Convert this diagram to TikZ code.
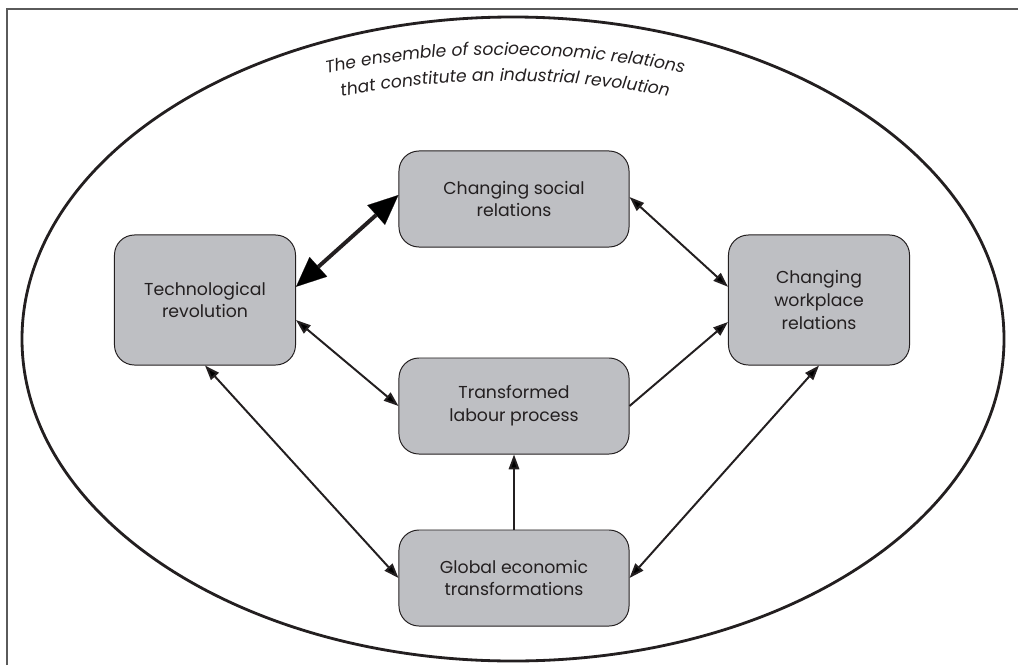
\documentclass[tikz,border=0pt]{standalone}
\usepackage{fontspec}
\setmainfont{Poppins}
\usetikzlibrary{arrows.meta,decorations.text}
\definecolor{boxgray}{RGB}{190,191,195}
\definecolor{ink}{RGB}{35,31,32}
\definecolor{framegray}{RGB}{90,90,90}

\begin{document}
\begin{tikzpicture}[x=0.025cm,y=-0.025cm,
  block/.style={draw=ink,line width=0.7pt,fill=boxgray,rounded corners=0.5cm,
    align=center,text=ink,inner sep=0pt,font=\fontsize{12.3}{16.3}\selectfont},
  link/.style={draw=ink,line width=1.4pt}]
\useasboundingbox (0,0) rectangle (1018,665);
\draw[framegray,line width=1.4pt] (7,665) -- (7,9) -- (1018,9);
\draw[ink,line width=2pt] (513,339) ellipse [x radius=491,y radius=322];
% title along the top of the ellipse
\path[decorate,decoration={text along path,text align=center,text color=ink,
  text={|\fontsize{12.2}{14}\selectfont\itshape|The ensemble of socioeconomic relations}}]
  (505,948) ++(250:893) arc[start angle=250,end angle=290,radius=893];
\path[decorate,decoration={text along path,text align=center,text color=ink,
  text={|\fontsize{12.2}{14}\selectfont\itshape|that constitute an industrial revolution}}]
  (505,948) ++(250:867) arc[start angle=250,end angle=290,radius=867];
\node[block,minimum width=4.525cm,minimum height=3.25cm] (tech) at (205,300) {Technological\\revolution};
\node[block,minimum width=5.75cm,minimum height=2.4cm] (social) at (514,199) {Changing social\\relations};
\node[block,minimum width=4.525cm,minimum height=3.25cm] (work) at (819,300) {Changing\\workplace\\relations};
\node[block,minimum width=5.75cm,minimum height=2.4cm] (labour) at (514,406) {Transformed\\labour process};
\node[block,minimum width=5.75cm,minimum height=2.4cm] (global) at (514,578) {Global economic\\transformations};
\draw[draw=ink,line width=2.8pt,
  {Triangle[length=0.75cm,width=0.66cm,line width=0.1pt]}-{Triangle[length=0.75cm,width=0.66cm,line width=0.1pt]}]
  ([yshift=0.33cm]tech.east) -- ([yshift=0.1cm]social.west);
\draw[link,{Triangle[length=0.37cm,width=0.26cm]}-{Triangle[length=0.37cm,width=0.26cm]}]
  ([yshift=0.05cm]social.east) -- ([yshift=0.33cm]work.west);
\draw[link,{Triangle[length=0.37cm,width=0.26cm]}-{Triangle[length=0.37cm,width=0.26cm]}]
  ([yshift=-0.5cm]tech.east) -- (labour.west);
\draw[link,-{Triangle[length=0.37cm,width=0.26cm]}]
  (labour.east) -- ([yshift=-0.55cm]work.west);
\draw[link,-{Triangle[length=0.37cm,width=0.26cm]}] (global.north) -- (labour.south);
\draw[link,{Triangle[length=0.37cm,width=0.26cm]}-{Triangle[length=0.37cm,width=0.26cm]}]
  (tech.south) -- (global.west);
\draw[link,{Triangle[length=0.37cm,width=0.26cm]}-{Triangle[length=0.37cm,width=0.26cm]}]
  (work.south) -- (global.east);
\end{tikzpicture}
\end{document}
